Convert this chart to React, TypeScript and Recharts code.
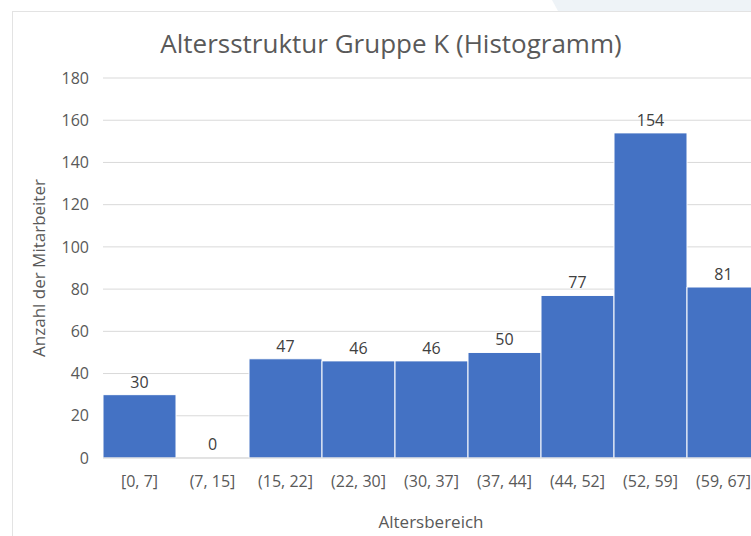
import React from "react"
import { BarChart, Bar, XAxis, YAxis, CartesianGrid, LabelList, Cell } from "recharts"

const altersbereiche = ["[0, 7]", "(7, 15]", "(15, 22]", "(22, 30]", "(30, 37]", "(37, 44]", "(44, 52]", "(52, 59]", "(59, 67]"]
const anzahl = [30, 0, 47, 46, 46, 50, 77, 154, 81]
const yTicks = [0, 20, 40, 60, 80, 100, 120, 140, 160, 180]

const data = altersbereiche.map((bereich, i) => ({ bereich, anzahl: anzahl[i] }))

const font = "'Open Sans', 'Noto Sans', sans-serif"
const textColor = "#595959"

// Excel also labels empty bins, so draw the label ourselves
const BarValue = (props: any) => {
    const { x, y, width, value } = props
    return (
        <text x={Number(x) + Number(width) / 2} y={Number(y) - 7} textAnchor="middle" fill="#404040" fontSize={16} fontFamily={font}>
            {value}
        </text>
    )
}

export default function App() {
    return (
        <div style={{ position: "fixed", left: 0, top: 0, width: 751, height: 536, overflow: "hidden", background: "#fff", fontFamily: font }}>
            <div style={{ position: "absolute", left: 12, top: 11, width: 800, height: 600, border: "1px solid #e3e3e3", boxSizing: "border-box" }} />
            <div style={{ position: "absolute", left: 0, top: 0 }}>
                <BarChart
                    width={800}
                    height={536}
                    data={data}
                    margin={{ top: 78, right: 40, bottom: 0, left: 0 }}
                    barCategoryGap={0}
                    barGap={0}
                >
                    <CartesianGrid vertical={false} stroke="#d9d9d9" />
                    <XAxis
                        dataKey="bereich"
                        height={78}
                        tickLine={false}
                        axisLine={{ stroke: "#d9d9d9" }}
                        tickMargin={12}
                        interval={0}
                        tick={{ fill: textColor, fontSize: 16, fontFamily: font }}
                    />
                    <YAxis
                        width={103}
                        domain={[0, 180]}
                        ticks={yTicks}
                        tickLine={false}
                        axisLine={false}
                        tickMargin={8}
                        tick={{ fill: textColor, fontSize: 16, fontFamily: font }}
                    />
                    <Bar dataKey="anzahl" fill="#4472C4" stroke="#ffffff" strokeWidth={1} minPointSize={1} isAnimationActive={false}>
                        {data.map((d, i) => (
                            <Cell key={`cell-${i}`} fill={d.anzahl === 0 ? "none" : "#4472C4"} stroke={d.anzahl === 0 ? "none" : "#ffffff"} />
                        ))}
                        <LabelList dataKey="anzahl" content={BarValue} />
                    </Bar>
                </BarChart>
            </div>
            <svg width={751} height={536} style={{ position: "absolute", left: 0, top: 0, pointerEvents: "none" }}>
                <polygon points="552,0 751,0 751,11 558,11" fill="#eef3f7" />
                <text x={391} y={53} textAnchor="middle" fill={textColor} fontSize={26} fontFamily={font}>
                    Altersstruktur Gruppe K (Histogramm)
                </text>
                <text x={45} y={268} textAnchor="middle" fill={textColor} fontSize={17} fontFamily={font} transform="rotate(-90 45 268)">
                    Anzahl der Mitarbeiter
                </text>
                <text x={431} y={528} textAnchor="middle" fill={textColor} fontSize={17} fontFamily={font}>
                    Altersbereich
                </text>
            </svg>
        </div>
    )
}
